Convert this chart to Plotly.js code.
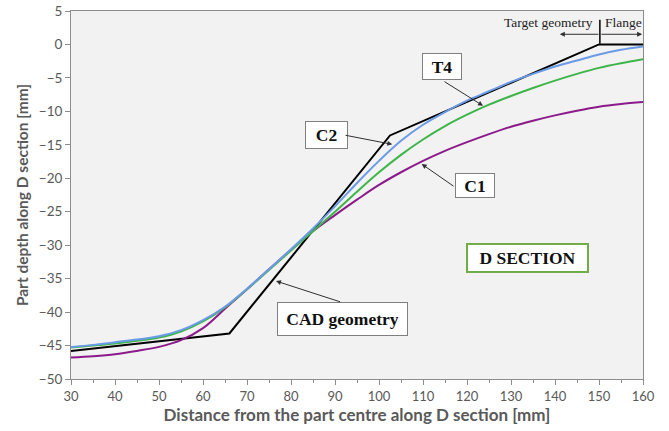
<!DOCTYPE html>
<html><head><meta charset="utf-8">
<script src="https://cdn.plot.ly/plotly-3.0.1.min.js"></script>
<style>html,body{margin:0;padding:0;background:#fff}#chart{width:669px;height:431px}</style>
</head><body><div id="chart"></div>
<script>
var xCurve = [30,35,40,45,50,55,60,65,70,75,80,85,90,95,100,105,110,115,120,125,130,135,140,145,150,155,160];
var yC2 = [-45.2,-44.9,-44.5,-44.1,-43.6,-42.7,-41.2,-39.2,-36.5,-33.6,-30.6,-27.5,-24.2,-20.7,-17.4,-14.4,-12.0,-10.1,-8.4,-7.0,-5.6,-4.4,-3.3,-2.4,-1.5,-0.8,-0.3];
var yT4 = [-45.3,-45.0,-44.7,-44.3,-43.8,-42.9,-41.4,-39.3,-36.6,-33.7,-30.8,-27.9,-25.0,-22.0,-19.1,-16.5,-14.2,-12.2,-10.5,-9.0,-7.7,-6.5,-5.4,-4.4,-3.5,-2.8,-2.2];
var yC1 = [-46.8,-46.6,-46.3,-45.8,-45.2,-44.2,-42.4,-39.5,-36.6,-33.6,-30.7,-27.9,-25.5,-23.2,-21.0,-19.1,-17.4,-15.9,-14.6,-13.4,-12.3,-11.4,-10.6,-9.9,-9.3,-8.9,-8.6];
var xCAD = [30,66,102.5,150,160];
var yCAD = [-45.8,-43.2,-13.6,0,0];

var serif = 'Liberation Serif, Times New Roman, serif';
var axisFont = 'Lato, Open Sans, sans-serif';

var traces = [
  {x:xCAD, y:yCAD, mode:'lines', name:'CAD geometry', line:{color:'#000000', width:2}},
  {x:xCurve, y:yC1, mode:'lines', name:'C1', line:{color:'#8B1A8B', width:2, shape:'spline'}},
  {x:xCurve, y:yT4, mode:'lines', name:'T4', line:{color:'#3DB548', width:2, shape:'spline'}},
  {x:xCurve, y:yC2, mode:'lines', name:'C2', line:{color:'#6A9BE6', width:2, shape:'spline'}}
];

function box(text, x, y, w, h, bc, bw) {
  return {x:x, y:y, xref:'x', yref:'y', text:'<b>'+text+'</b>', showarrow:false,
    font:{family:serif, size:17.5, color:'#111'}, bgcolor:'#ffffff', bordercolor:bc||'#7f7f7f',
    borderwidth:bw||1, borderpad:2, width:w, height:h, align:'center', valign:'middle'};
}
function arrow(x0,y0,x1,y1,side) {
  return {x:x1, y:y1, ax:x0, ay:y0, xref:'x', yref:'y', axref:'x', ayref:'y', text:'',
    showarrow:true, arrowhead:2, arrowsize:1, arrowwidth:1, arrowcolor:'#303030', arrowside:side||'end'};
}

var annotations = [
  box('T4', 114.25, -3.28, 34, 21),
  box('C2', 88.05, -13.52, 37, 22),
  box('C1', 121.8, -21.08, 34, 19),
  box('CAD geometry', 91.64, -41.07, 125, 28),
  box('D SECTION', 133.75, -31.97, 115, 22, '#70AD47', 2),
  arrow(114.55,-5.42,123.64,-9.16),
  arrow(92.05,-13.53,103.02,-14.93),
  arrow(117.27,-21.33,109.7,-17.87),
  arrow(91.52,-38.54,76.59,-35.36),
  arrow(150.2,1.52,141.1,1.52),
  arrow(150.2,1.52,159.8,1.52),
  {x:149.1, y:3.28, xref:'x', yref:'y', xanchor:'right', text:'Target geometry', showarrow:false,
    font:{family:serif, size:13.5, color:'#222'}},
  {x:151.0, y:3.28, xref:'x', yref:'y', xanchor:'left', text:'Flange', showarrow:false,
    font:{family:serif, size:13.5, color:'#222'}}
];

var layout = {
  width:669, height:431,
  margin:{l:71, r:26, t:11, b:52},
  paper_bgcolor:'#ffffff', plot_bgcolor:'#f2f2f2',
  showlegend:false,
  xaxis:{range:[30,160], dtick:10, tick0:30, showgrid:false, zeroline:false,
    showline:true, linecolor:'#8c8c8c', linewidth:1, mirror:true,
    ticks:'outside', ticklen:5, tickcolor:'#8c8c8c',
    minor:{dtick:5, ticks:'outside', ticklen:3, tickcolor:'#8c8c8c'},
    tickfont:{family:axisFont, size:13, color:'#595959'},
    title:{text:'<b>Distance from the part centre along D section [mm]</b>', font:{family:axisFont, size:17, color:'#595959'}, standoff:4}},
  yaxis:{range:[-50,5], dtick:5, showgrid:false, zeroline:false,
    showline:true, linecolor:'#8c8c8c', linewidth:1, mirror:true,
    ticks:'outside', ticklen:5, tickcolor:'#8c8c8c',
    tickfont:{family:axisFont, size:13.5, color:'#595959'},
    title:{text:'<b>Part depth along D section [mm]</b>', font:{family:axisFont, size:15.5, color:'#595959'}, standoff:6}},
  shapes:[{type:'line', xref:'x', yref:'y', x0:150.2, x1:150.2, y0:0.1, y1:3.7, line:{color:'#000', width:1.5}}],
  annotations:annotations
};
Plotly.newPlot('chart', traces, layout, {staticPlot:true});
</script></body></html>
